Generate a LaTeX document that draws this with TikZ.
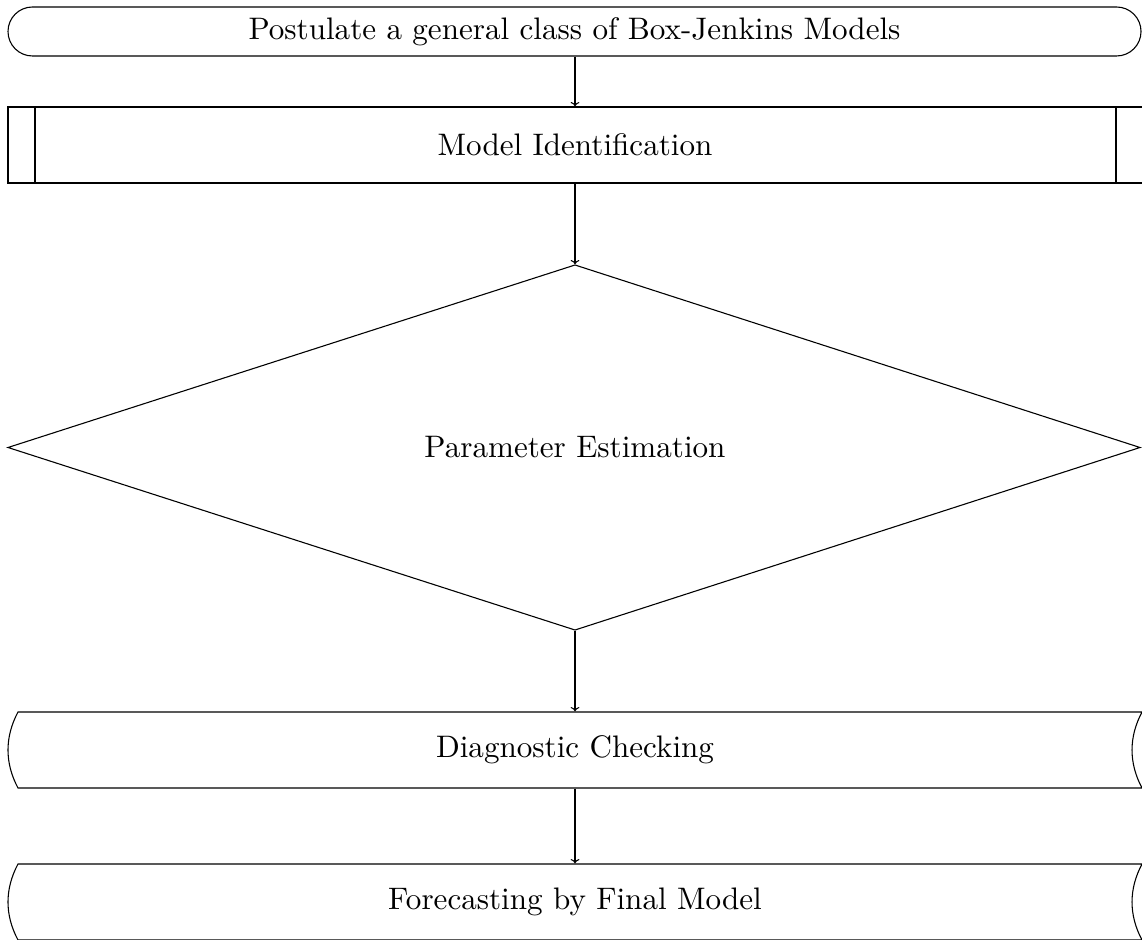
\documentclass[tikz,border=0pt]{standalone}
\usetikzlibrary{arrows.meta}
\begin{document}
\begin{tikzpicture}[x=0.3215pt,y=-0.3215pt,
  outline/.style={draw=black,line width=0.35pt},
  lbl/.style={inner sep=0pt,font=\fontsize{10}{12}\selectfont},
  conn/.style={draw=black,line width=0.35pt,-{To[length=1.4pt,width=2.8pt]}}]
\useasboundingbox (0,0) rectangle (1142,939);
% terminator
\draw[outline,rounded corners=7.87pt] (8,7) rectangle (1141,56);
\node[lbl,minimum width=364.26pt,minimum height=15.75pt] (t) at (574.5,31.5) {Postulate a general class of Box-Jenkins Models};
% predefined process
\draw[outline] (8,107) rectangle (1143,183);
\draw[outline] (35,107) -- (35,183);
\draw[outline] (1116,107) -- (1116,183);
\node[lbl,minimum width=364.9pt,minimum height=24.43pt] (m) at (575,145) {Model Identification};
% diamond
\draw[outline] (575,265) -- (1140,447.5) -- (575,630) -- (8,447.5) -- cycle;
\node[lbl,minimum width=363.9pt,minimum height=117.35pt] (p) at (575,447.5) {Parameter Estimation};
% storage 1
\draw[outline] (18,712) -- (1142,712) .. controls (1128.67,737) and (1128.67,763) .. (1142,788) -- (18,788) .. controls (4.67,763) and (4.67,737) .. (18,712) -- cycle;
\node[lbl,minimum width=360pt,minimum height=24.43pt] (d) at (575,750) {Diagnostic Checking};
% storage 2
\draw[outline] (18,864) -- (1142,864) .. controls (1128.67,889) and (1128.67,915) .. (1142,940) -- (18,940) .. controls (4.67,915) and (4.67,889) .. (18,864) -- cycle;
\node[lbl,minimum width=360pt,minimum height=24.43pt] (f) at (575,902) {Forecasting by Final Model};
% connectors
\draw[conn] (t.south -| m.north) -- (m.north);
\draw[conn] (m.south) -- (p.north);
\draw[conn] (p.south) -- (d.north);
\draw[conn] (d.south) -- (f.north);
\end{tikzpicture}
\end{document}
